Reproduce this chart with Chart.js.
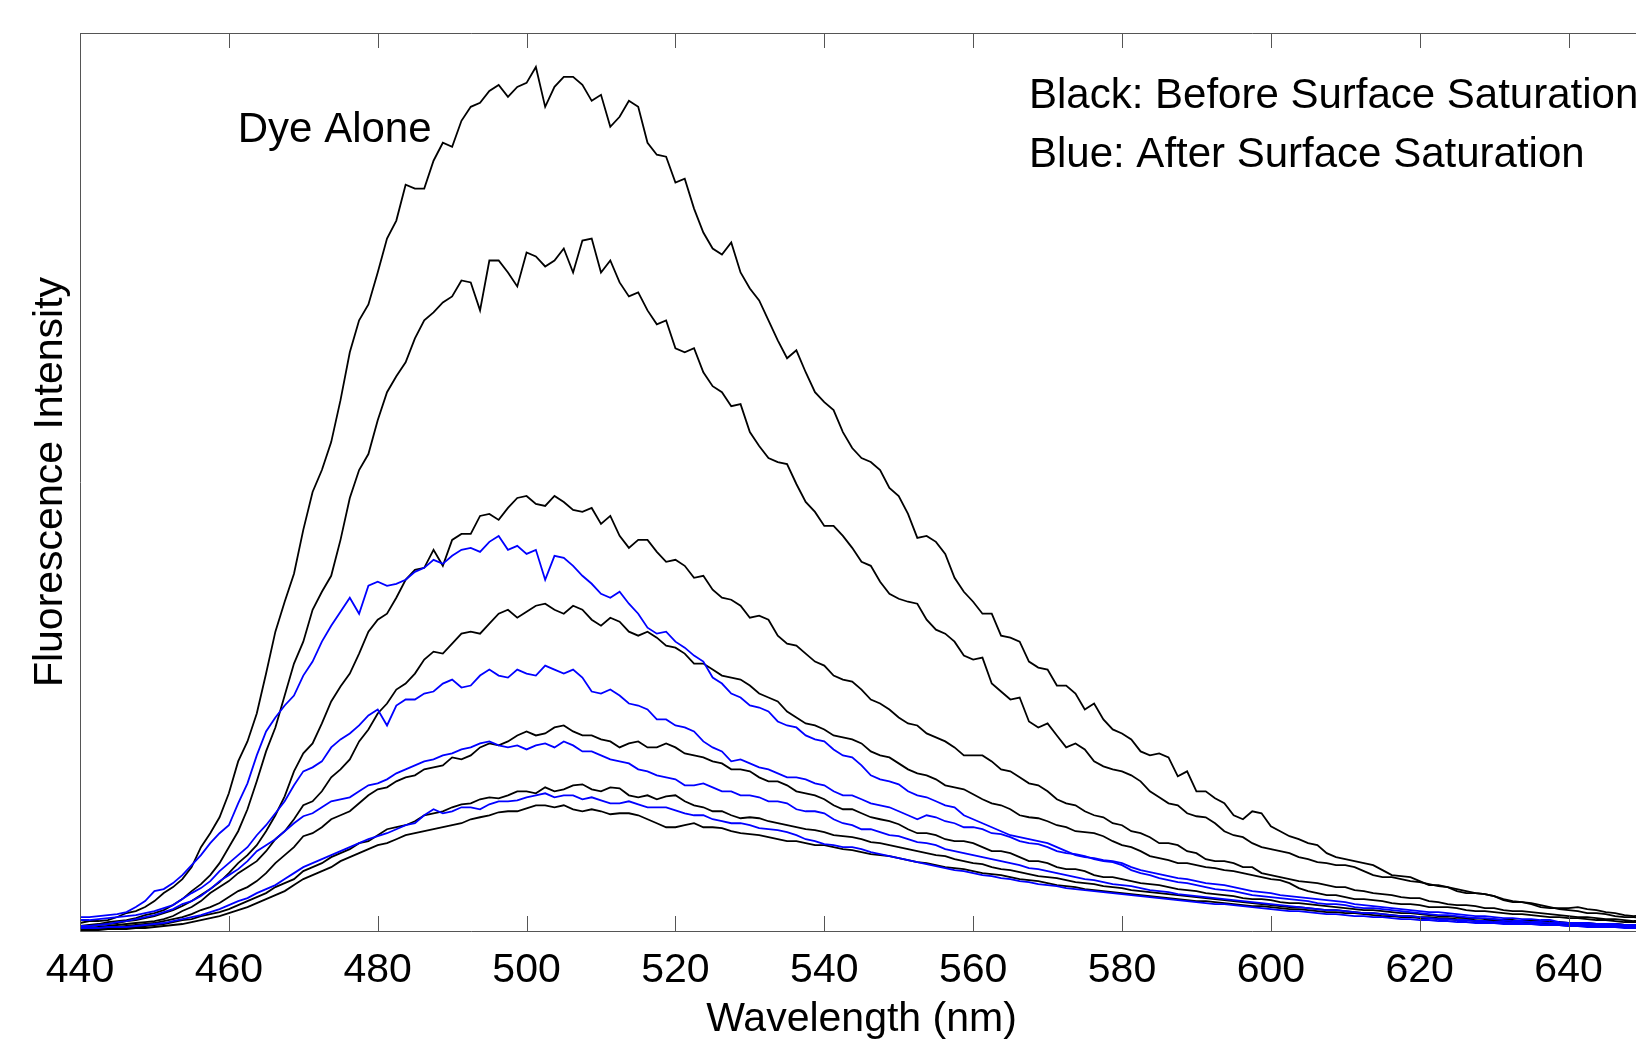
<!DOCTYPE html>
<html>
<head>
<meta charset="utf-8">
<title>Fluorescence spectra</title>
<script src="https://cdn.jsdelivr.net/npm/chart.js@4.4.1/dist/chart.umd.min.js"></script>
<style>
  html, body { margin: 0; padding: 0; background: #fff; overflow: hidden; }
  #wrap { width: 1700px; height: 1045px; }
</style>
</head>
<body>
<div id="wrap"><canvas id="chartSpectra" width="1700" height="1045"></canvas></div>
<script>
/* emission spectra (arbitrary intensity units) */
const wavelengths = [
  440,441.25,442.5,443.75,445,446.25,447.5,448.75,450,451.25,452.5,453.75,455,456.25,457.5,458.75,460,461.25,462.5,463.75,
  465,466.25,467.5,468.75,470,471.25,472.5,473.75,475,476.25,477.5,478.75,480,481.25,482.5,483.75,485,486.25,487.5,488.75,
  490,491.25,492.5,493.75,495,496.25,497.5,498.75,500,501.25,502.5,503.75,505,506.25,507.5,508.75,510,511.25,512.5,513.75,
  515,516.25,517.5,518.75,520,521.25,522.5,523.75,525,526.25,527.5,528.75,530,531.25,532.5,533.75,535,536.25,537.5,538.75,
  540,541.25,542.5,543.75,545,546.25,547.5,548.75,550,551.25,552.5,553.75,555,556.25,557.5,558.75,560,561.25,562.5,563.75,
  565,566.25,567.5,568.75,570,571.25,572.5,573.75,575,576.25,577.5,578.75,580,581.25,582.5,583.75,585,586.25,587.5,588.75,
  590,591.25,592.5,593.75,595,596.25,597.5,598.75,600,601.25,602.5,603.75,605,606.25,607.5,608.75,610,611.25,612.5,613.75,
  615,616.25,617.5,618.75,620,621.25,622.5,623.75,625,626.25,627.5,628.75,630,631.25,632.5,633.75,635,636.25,637.5,638.75,
  640,641.25,642.5,643.75,645,646.25,647.5,648.75,650];
const xTicks = [440,460,480,500,520,540,560,580,600,620,640];

// black: before surface saturation
const dyeAlone = [
  8,10,10,11,14,18,20,24,30,38,44,52,64,84,98,114,138,170,190,218,
  258,300,330,358,402,440,462,490,532,580,612,628,660,694,712,748,744,744,772,790,
  786,812,826,830,842,848,836,846,850,866,826,846,856,856,848,832,838,806,816,832,
  826,790,778,776,750,754,724,700,684,678,690,660,644,632,612,592,574,582,560,540,
  530,522,500,484,474,470,462,444,436,418,394,396,390,378,354,340,330,318,318,296,
  294,290,270,264,262,246,246,238,222,228,212,202,198,192,180,176,178,174,155,160,
  140,140,133,128,116,112,120,118,105,100,95,92,88,86,78,74,72,70,68,66,
  61,56,55,54,50,46,46,44,40,38,38,37,35,31,29,29,27,24,23,23,
  23,24,22,21,19,18,16,15,16];
const before1 = [
  5,6,7,9,10,11,13,16,18,21,26,32,40,47,56,68,84,100,122,150,
  180,204,236,268,290,322,340,356,392,434,462,478,512,540,556,570,594,612,620,630,
  636,652,650,622,672,672,660,646,680,676,666,672,684,660,692,694,660,672,650,636,
  640,622,608,612,584,580,584,560,546,540,526,528,500,486,474,470,468,448,430,420,
  406,406,396,384,370,366,350,338,333,330,328,312,302,298,290,276,272,274,248,240,
  232,234,210,204,208,196,184,188,182,170,165,162,160,156,150,140,134,128,126,118,
  115,114,108,100,96,94,88,84,82,80,78,74,72,69,68,66,66,64,60,56,
  54,54,52,50,49,47,45,44,42,40,38,37,35,32,30,29,28,26,24,22,
  21,20,18,18,17,15,14,14,13];
const before2 = [
  4,5,6,7,8,10,11,13,15,18,21,25,30,36,42,49,58,68,76,86,
  100,116,135,160,178,188,208,230,245,258,278,300,312,318,334,352,362,364,382,366,
  392,398,398,416,418,412,424,434,436,428,426,436,430,422,420,424,408,416,396,384,
  392,392,380,370,372,366,354,356,342,334,332,326,314,316,312,296,288,286,278,270,
  266,256,252,250,242,232,228,222,214,208,206,198,194,190,184,176,176,176,170,162,
  160,154,148,146,140,132,128,126,120,116,114,108,106,100,98,94,88,88,86,80,
  78,72,70,70,68,64,64,58,56,54,52,50,49,48,46,44,44,41,40,38,
  37,36,34,33,33,30,29,27,26,26,25,23,23,21,20,20,19,18,17,16,
  15,14,14,13,12,12,11,10,10];
const before3 = [
  3,3,4,5,6,7,8,9,10,12,15,20,24,30,38,44,50,58,64,70,
  80,92,100,112,126,130,140,154,162,172,190,202,218,228,242,248,258,272,280,278,
  288,298,300,298,308,318,322,314,320,326,328,322,318,326,322,312,306,314,310,300,
  296,300,294,286,284,278,268,268,262,256,254,252,246,238,234,230,220,214,208,206,
  202,196,194,192,188,180,176,174,168,162,158,156,152,146,144,142,137,132,128,126,
  122,116,114,113,110,106,104,100,99,98,95,90,86,84,80,75,73,71,68,68,
  66,64,63,61,60,58,56,54,52,51,48,43,40,38,36,36,34,32,32,31,
  30,28,27,27,26,24,24,24,23,21,20,20,19,18,17,17,16,15,14,14,
  13,13,12,11,11,10,9,9,9];
const before4 = [
  2,2,3,3,4,5,6,7,8,10,12,14,17,21,24,28,34,40,44,50,
  58,68,76,84,95,98,104,112,116,120,128,136,142,144,150,154,156,162,164,166,
  174,172,176,184,188,186,190,196,200,196,198,204,206,200,196,196,192,190,184,188,
  190,184,184,188,184,178,176,174,170,168,162,162,160,154,150,150,146,140,138,136,
  132,126,122,122,118,114,112,110,107,102,98,98,96,92,90,90,88,84,80,80,
  78,74,70,70,68,64,62,62,60,56,54,54,52,50,48,47,46,44,42,41,
  40,38,37,36,35,33,32,32,31,29,28,28,27,26,25,24,23,22,21,21,
  20,19,18,18,17,16,15,15,14,13,13,12,12,11,11,10,10,10,9,9,
  8,8,8,7,7,7,6,6,6];
const before5 = [
  2,2,2,3,3,3,4,5,6,7,9,11,12,15,17,19,22,26,30,34,
  38,44,48,52,60,64,68,74,78,82,88,90,96,102,104,106,110,116,118,120,
  124,127,128,132,134,133,136,140,140,138,144,140,142,146,147,142,140,144,143,136,
  134,136,132,135,136,130,126,124,120,120,116,113,114,113,110,108,106,104,102,101,
  99,96,95,94,92,89,88,86,84,82,80,78,76,75,72,70,68,67,64,62,
  61,59,57,55,54,53,51,49,48,47,45,44,43,41,40,39,38,37,36,35,
  34,33,32,31,30,29,28,27,26,25,24,24,23,22,21,21,20,19,18,18,
  17,16,15,15,14,14,13,13,12,12,11,10,10,10,10,9,9,9,8,8,
  8,8,7,7,7,7,6,6,6];
const before6 = [
  1,1,1,2,2,2,3,3,4,5,6,7,9,11,13,15,18,21,24,28,
  32,36,40,46,52,56,60,64,70,74,78,82,86,88,92,96,98,100,102,104,
  106,108,112,114,116,119,120,120,123,126,126,124,126,122,120,122,120,117,118,118,
  116,112,108,104,104,106,108,104,104,103,100,98,97,96,94,92,90,90,88,86,
  86,84,82,81,79,77,76,75,73,71,69,68,66,64,63,62,60,58,57,56,
  54,52,51,50,48,46,45,44,42,41,40,39,38,37,36,35,34,33,32,31,
  30,30,29,28,27,26,25,25,24,23,22,22,21,20,19,19,18,18,17,16,
  15,15,14,14,13,13,12,12,11,11,10,10,9,9,9,9,8,8,7,7,
  7,7,6,6,6,6,5,5,5];

// blue: after surface saturation
const after1 = [
  14,14,15,16,17,19,24,30,40,42,48,56,66,76,88,98,106,128,148,176,
  200,214,226,236,256,270,290,306,320,334,318,346,350,346,348,352,360,364,372,368,
  376,382,384,380,390,396,382,386,378,382,352,376,374,366,356,348,338,334,340,328,
  318,304,298,300,290,284,276,270,254,248,238,234,226,224,220,210,206,204,196,192,
  190,182,176,174,166,156,152,150,147,140,136,134,130,126,124,116,112,108,104,100,
  96,94,92,90,88,84,80,76,74,73,71,70,68,64,61,59,57,55,53,52,
  50,48,47,46,44,42,40,39,38,36,35,34,33,32,31,30,29,27,26,25,
  24,23,22,21,20,19,19,18,17,16,15,15,14,13,13,12,12,11,11,9,
  8,8,8,7,7,7,6,6,6];
const after2 = [
  11,11,12,13,14,15,16,18,20,23,26,32,38,43,50,60,68,76,84,96,
  106,118,130,146,160,164,170,184,192,198,206,216,222,206,226,232,232,238,240,248,
  252,244,246,256,262,256,254,262,258,256,266,262,258,262,254,240,238,242,236,228,
  226,222,212,212,206,204,200,190,184,180,170,172,168,164,162,158,154,154,152,148,
  146,140,136,136,132,128,126,124,120,116,112,116,114,110,108,104,104,102,98,97,
  94,90,88,87,84,80,78,77,75,72,70,69,66,61,58,56,53,51,49,48,
  46,44,42,41,40,38,36,35,34,33,32,31,30,28,27,27,26,24,23,23,
  22,21,20,19,18,17,16,16,15,14,13,13,12,11,10,10,9,9,8,8,
  7,7,6,6,6,5,5,5,4];
const after3 = [
  5,5,6,7,9,10,12,14,16,19,22,27,30,35,42,50,56,62,70,80,
  86,92,100,108,115,118,124,130,132,134,140,146,148,152,158,162,166,170,172,176,
  178,182,184,188,190,186,184,186,182,186,188,184,190,186,180,180,176,172,170,168,
  162,160,156,154,152,146,146,148,144,140,140,136,136,134,130,130,128,122,120,120,
  118,112,108,106,102,102,99,96,95,92,89,88,86,82,80,78,76,74,72,70,
  68,66,63,62,60,58,56,54,52,51,49,47,46,45,43,41,40,39,37,36,
  35,34,33,32,31,30,29,28,27,26,25,24,23,22,21,21,20,19,18,18,
  17,16,15,15,14,13,12,12,11,11,10,10,9,9,8,8,7,7,6,6,
  5,5,5,5,4,4,4,4,3];
const after4 = [
  3,3,3,4,4,4,5,6,7,8,10,12,14,16,19,22,26,30,33,38,
  42,46,52,58,64,68,72,76,80,84,88,92,95,98,102,106,108,116,122,118,
  120,124,124,122,127,130,130,131,134,136,138,134,136,136,132,134,131,128,128,130,
  127,124,124,124,121,118,116,116,112,110,108,108,106,103,102,101,99,96,92,90,
  87,86,84,84,82,79,77,75,73,71,69,67,65,63,61,60,58,56,55,53,
  52,50,49,47,46,45,43,42,41,40,39,38,37,36,35,34,33,32,31,30,
  29,28,27,27,26,25,24,23,22,21,20,20,19,18,17,17,16,15,15,14,
  14,13,12,12,11,11,10,10,9,9,8,8,8,7,7,7,7,6,6,6,
  5,5,4,4,4,4,3,3,3];

const FONT_FAMILY = '"Liberation Sans", Arial, Helvetica, sans-serif';
const BLACK = '#000000';
const BLUE = '#0000ff';

const toPoints = arr => wavelengths.map((w, i) => ({ x: w, y: arr[i] }));

// first dataset is drawn on top, so blues go first
const series = [
  { name: 'after1', data: after1, color: BLUE },
  { name: 'after2', data: after2, color: BLUE },
  { name: 'after3', data: after3, color: BLUE },
  { name: 'after4', data: after4, color: BLUE },
  { name: 'dyeAlone', data: dyeAlone, color: BLACK },
  { name: 'before1', data: before1, color: BLACK },
  { name: 'before2', data: before2, color: BLACK },
  { name: 'before3', data: before3, color: BLACK },
  { name: 'before4', data: before4, color: BLACK },
  { name: 'before5', data: before5, color: BLACK },
  { name: 'before6', data: before6, color: BLACK },
];

// box around the plot, inward ticks top and bottom, text labels
const frame = {
  id: 'frame',
  afterDatasetsDraw(chart) {
    const { ctx, chartArea: a, scales: { x, y } } = chart;
    ctx.save();
    ctx.strokeStyle = '#555';
    ctx.lineWidth = 1;
    ctx.beginPath();
    ctx.rect(a.left + 0.5, a.top + 0.5, a.right - a.left, a.bottom - a.top);
    x.ticks.forEach(t => {
      const px = Math.round(x.getPixelForValue(t.value)) + 0.5;
      ctx.moveTo(px, a.bottom);
      ctx.lineTo(px, a.bottom - 15);
      ctx.moveTo(px, a.top);
      ctx.lineTo(px, a.top + 15);
    });
    ctx.stroke();

    ctx.fillStyle = '#000';
    ctx.font = '42px ' + FONT_FAMILY;
    ctx.textBaseline = 'alphabetic';
    ctx.textAlign = 'left';
    ctx.fillText('Dye Alone', x.getPixelForValue(461.2), y.getPixelForValue(791));
    ctx.fillText('Black: Before Surface Saturation', x.getPixelForValue(567.5), y.getPixelForValue(825));
    ctx.fillText('Blue: After Surface Saturation', x.getPixelForValue(567.5), y.getPixelForValue(766));
    ctx.restore();
  }
};

new Chart(document.getElementById('chartSpectra'), {
  type: 'line',
  data: {
    datasets: series.map(s => ({
      label: s.name,
      data: toPoints(s.data),
      borderColor: s.color,
      backgroundColor: s.color,
      borderWidth: 1.8,
      pointRadius: 0,
      tension: 0,
      fill: false
    }))
  },
  options: {
    responsive: false,
    animation: false,
    devicePixelRatio: 1,
    layout: { padding: { left: 30, right: 57, top: 33, bottom: 5 } },
    plugins: {
      legend: { display: false },
      tooltip: { enabled: false }
    },
    scales: {
      x: {
        type: 'linear',
        min: 440,
        max: 650,
        afterBuildTicks: s => { s.ticks = xTicks.map(v => ({ value: v })); },
        ticks: {
          color: '#000',
          padding: 19,
          maxRotation: 0,
          autoSkip: false,
          font: { family: FONT_FAMILY, size: 41, lineHeight: 1 }
        },
        grid: { display: false, drawTicks: false },
        border: { display: false },
        title: {
          display: true,
          text: 'Wavelength (nm)',
          color: '#000',
          font: { family: FONT_FAMILY, size: 41, lineHeight: 1 },
          padding: { top: -11, bottom: 0 }
        }
      },
      y: {
        min: 0,
        max: 900,
        ticks: { display: false },
        grid: { display: false, drawTicks: false },
        border: { display: false },
        title: {
          display: true,
          text: 'Fluorescence Intensity',
          color: '#000',
          font: { family: FONT_FAMILY, size: 41, lineHeight: 1 },
          padding: { top: 0, bottom: 9 }
        }
      }
    }
  },
  plugins: [frame]
});
</script>
</body>
</html>
